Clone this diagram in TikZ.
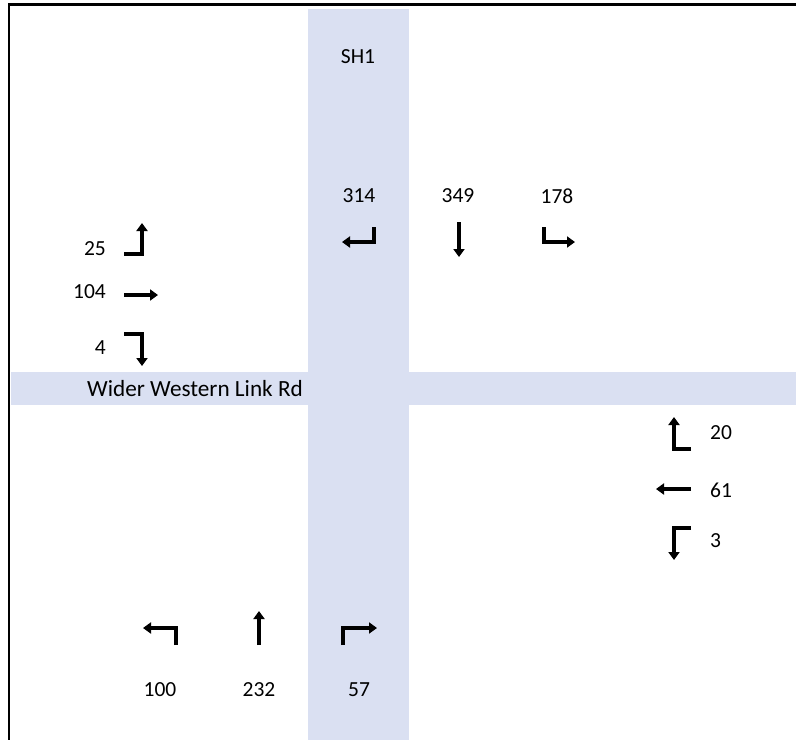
\documentclass[tikz,border=0pt]{standalone}
\usepackage{fontspec}
\setmainfont{Carlito}
\usetikzlibrary{arrows.meta}
\definecolor{road}{RGB}{218,224,242}
\begin{document}
\begin{tikzpicture}[x=1pt,y=-1pt,
  lbl/.style={inner sep=0pt,font=\fontsize{21.5}{25}\selectfont},
  mv/.style={line width=3.2pt,-{Triangle[width=11pt,length=8pt]}}]
\useasboundingbox (0,0) rectangle (796,740);
% roads
\fill[road] (308,9) rectangle (409,740);
\fill[road] (11,372) rectangle (796,405);
% frame
\draw[line width=2.4pt] (796,4.5) -- (9,4.5) -- (9,740);
% labels
\node[lbl] (sh) at (358,57) {SH1};
\node[lbl,font=\fontsize{23.2}{27}\selectfont] (rd) at (195,389) {Wider Western Link Rd};
\node[lbl] (n314) at (359,196) {314};
\node[lbl] (n349) at (458,196) {349};
\node[lbl] (n178) at (557,196) {178};
\node[lbl,anchor=east] (n25) at (106,249) {25};
\node[lbl,anchor=east] (n104) at (106,292) {104};
\node[lbl,anchor=east] (n4) at (106,348) {4};
\node[lbl,anchor=west] (n20) at (710,433) {20};
\node[lbl,anchor=west] (n61) at (710,490) {61};
\node[lbl,anchor=west] (n3) at (710,541) {3};
\node[lbl] (n100) at (160,690) {100};
\node[lbl] (n232) at (259,690) {232};
\node[lbl] (n57) at (359,690) {57};
% movement arrows, north approach
\draw[mv] (374,227) -- (374,242) -- (342,242);
\draw[mv] (459,222) -- (459,257);
\draw[mv] (544,227) -- (544,242) -- (575,242);
% west approach
\draw[mv] (124,254) -- (142,254) -- (142,223);
\draw[mv] (124,295) -- (158,295);
\draw[mv] (124,334) -- (142,334) -- (142,366);
% east approach
\draw[mv] (691,449) -- (674,449) -- (674,417);
\draw[mv] (691,489) -- (656,489);
\draw[mv] (691,528) -- (674,528) -- (674,560);
% south approach
\draw[mv] (176,645) -- (176,628) -- (143,628);
\draw[mv] (259,645) -- (259,611);
\draw[mv] (343,645) -- (343,628) -- (377,628);
\end{tikzpicture}
\end{document}
